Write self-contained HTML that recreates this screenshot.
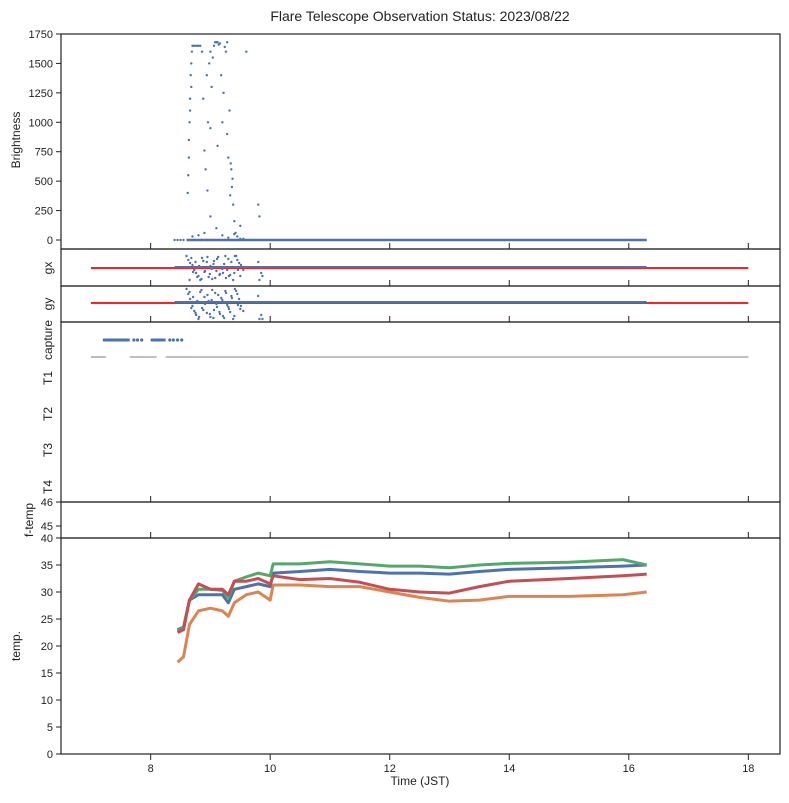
<!DOCTYPE html>
<html><head><meta charset="utf-8"><style>
body{margin:0;background:#fff;font-family:"Liberation Sans",sans-serif}
svg text{font-family:"Liberation Sans",sans-serif;fill:#222}
</style></head><body>
<svg id="c" width="789" height="798"></svg>
<script>
const bTimes=[8.4,8.45,8.5,8.55,8.62,8.63,8.64,8.65,8.66,8.67,8.68,8.69,8.7,8.72,8.75,8.78,8.8,8.83,8.86,8.88,8.9,8.92,8.94,8.96,8.98,9.0,9.02,9.04,9.06,9.08,9.1,9.12,9.14,9.16,9.18,9.2,9.22,9.24,9.26,9.28,9.3,9.32,9.34,9.36,9.38,9.4,9.42,9.45,9.5,9.55,9.6,9.8,9.82,8.7,8.73,8.8,8.85,8.9,8.95,9.0,9.05,9.1,9.15,9.2,9.25,9.3,9.35,9.4,9.45,9.5,8.64,8.66,8.68,9.0,9.35,9.37,8.95,9.12,9.28,9.33];
const bVals=[0,0,0,0,400,550,700,1000,1200,1400,1500,1600,1650,1650,1650,1650,1650,1650,1600,1200,760,600,1400,1000,1500,1600,1300,1550,1650,1680,1680,1680,1660,1670,1400,1000,1250,1640,1600,1680,700,1100,650,450,300,160,60,30,120,10,1600,300,200,30,0,40,0,60,0,200,0,100,0,40,0,20,0,50,0,10,850,1100,1300,950,600,520,420,800,900,380];
const zeroStart=8.6, zeroEnd=16.3;
const gxOffsets=[-12,-8,-5,-3,2,5,8,12,-10,4,-6,9,-2,11,-7,3,-11,6,1,-4,10,-9,7,-1,5,-12,2,8,-6,12];
const gyOffsets=[-14,-9,-4,3,8,12,16,-11,5,-6,10,-2,14,-13,7,1,-8,11,-3,15,-10,4,9,-5,13,-12,2,6,-7,16];
const gTimes=[8.6,8.63,8.66,8.7,8.73,8.76,8.8,8.83,8.86,8.9,8.94,8.97,9.0,9.03,9.06,9.1,9.13,9.16,9.2,9.23,9.26,9.3,9.33,9.36,9.4,9.43,9.46,9.5,9.8,9.82];
const tTimes=[8.45,8.55,8.65,8.8,9.0,9.2,9.3,9.4,9.6,9.8,10.0,10.05,10.5,11,11.5,12,12.5,13,13.5,14,15,15.9,16.3];
const tBlue=[23,23.5,28.5,29.5,29.5,29.5,28,30.5,31,31.5,31,33.5,33.8,34.2,33.8,33.5,33.5,33.3,33.8,34.2,34.5,34.8,35];
const tGreen=[22.7,23.5,28.5,30.5,30.5,30.3,29,32,32.8,33.5,33,35.2,35.2,35.6,35.2,34.8,34.8,34.5,35,35.3,35.5,36,35];
const tRed=[22.5,23,28.5,31.5,30.5,30.5,29.5,32,32,32.5,31.5,33,32.3,32.5,31.8,30.5,30,29.8,31,32,32.5,33,33.3];
const tOrange=[17,18,24,26.5,27,26.5,25.5,28,29.5,30,28.5,31.3,31.3,31,31,30,29,28.3,28.5,29.2,29.2,29.5,30];
const capStarts=[7.2,8.0];
const capEnds=[7.65,8.25];
const capDotTimes=[7.72,7.78,7.85,8.32,8.38,8.45,8.52];
const t1Starts=[7.0,7.65,8.25];
const t1Ends=[7.25,8.1,18.0];
const xTicks=[8,10,12,14,16,18];
const bTicks=[0,250,500,750,1000,1250,1500,1750];
const tTicks=[0,5,10,15,20,25,30,35,40];

const S=document.getElementById('c'),NS='http://www.w3.org/2000/svg';
function el(t,a,p){const e=document.createElementNS(NS,t);for(const k in a)e.setAttribute(k,a[k]);(p||S).appendChild(e);return e;}
const L=61,R=780;
const X=t=>L+(t-6.5)*(R-L)/(18.53-6.5);
const YB=v=>240-v*206/1750;
const YT=v=>754-v*216/40;
const panels=[[34,249],[249,286],[286,322],[322,502],[502,538],[538,754]];
for(let i=0;i<bTimes.length;i++){const c=el('circle',{cx:X(bTimes[i]),cy:YB(bVals[i]),r:1.2,fill:'#4c72b0'});

}
const zl=el('line',{x1:X(zeroStart),x2:X(zeroEnd),y1:YB(0),y2:YB(0),stroke:'#4c72b0','stroke-width':2.5});

[[268,gxOffsets,'gx'],[303,gyOffsets,'gy']].forEach(([y0,off,nm])=>{
 const r=el('line',{x1:X(7),x2:X(18),y1:y0,y2:y0,stroke:'#ff2020','stroke-width':2});
 
 const b=el('line',{x1:X(8.4),x2:X(16.3),y1:y0-1,y2:y0-1,stroke:'#4c72b0','stroke-width':2});
 
 for(let i=0;i<gTimes.length;i++)for(let k=0;k<2;k++){const c=el('circle',{cx:X(gTimes[i])+k*3,cy:y0+off[(i+k*7)%off.length],r:1.2,fill:'#4c72b0'});
 }
});
for(let i=0;i<capStarts.length;i++){const c=el('line',{x1:X(capStarts[i]),x2:X(capEnds[i]),y1:340,y2:340,stroke:'#4c72b0','stroke-width':3});
 }
capDotTimes.forEach(t=>{const c=el('circle',{cx:X(t),cy:340,r:1.6,fill:'#4c72b0'});
 });
for(let i=0;i<t1Starts.length;i++){const c=el('line',{x1:X(t1Starts[i]),x2:X(t1Ends[i]),y1:357,y2:357,stroke:'#555','stroke-width':0.8});
 }
[[tOrange,'#dd8452','temp-orange'],[tBlue,'#4c72b0','temp-blue'],[tGreen,'#55a868','temp-green'],[tRed,'#c44e52','temp-red']].forEach(([d,c,n])=>{
 const p=el('polyline',{points:tTimes.map((t,i)=>X(t)+','+YT(d[i])).join(' '),fill:'none',stroke:c,'stroke-width':3,'stroke-linejoin':'round'});
 });
panels.forEach(([a,b],i)=>{const r=el('rect',{x:L,y:a,width:R-L,height:b-a,fill:'none',stroke:'#222','stroke-width':1.2});
 
 if(i<5)xTicks.forEach(t=>el('line',{x1:X(t),x2:X(t),y1:b,y2:b-6,stroke:'#222'}));});
xTicks.forEach(t=>{el('line',{x1:X(t),x2:X(t),y1:754,y2:760,stroke:'#222'});
 const tx=el('text',{x:X(t),y:772,'font-size':11,'text-anchor':'middle'});tx.textContent=t;
 });
function yl(y,s){el('line',{x1:L,x2:L-5,y1:y,y2:y,stroke:'#222'});const t=el('text',{x:L-8,y:y+4,'font-size':11,'text-anchor':'end'});t.textContent=s;
 }
bTicks.forEach(v=>yl(YB(v),v));
tTicks.forEach(v=>yl(YT(v),v));
yl(502,46);yl(526,45);
function rl(x,y,s,n){const t=el('text',{x:x,y:y,'font-size':12,'text-anchor':'middle',transform:`rotate(-90 ${x} ${y})`});t.textContent=s;
 }
rl(20,140,'Brightness','brightness-axis-title');rl(52,268,'gx','gx-axis-title');rl(52,304,'gy','gy-axis-title');
rl(52,340,'capture','capture-label');rl(52,378,'T1','t1-label');rl(52,414,'T2','t2-label');rl(52,450,'T3','t3-label');rl(52,487,'T4','t4-label');
rl(33,520,'f-temp','ftemp-axis-title');rl(20,646,'temp.','temp-axis-title');
const xt=el('text',{x:420,y:785,'font-size':12,'text-anchor':'middle'});xt.textContent='Time (JST)';

const tt=el('text',{x:420,y:21,'font-size':14,'text-anchor':'middle'});tt.textContent='Flare Telescope Observation Status: 2023/08/22';

</script></body></html>
